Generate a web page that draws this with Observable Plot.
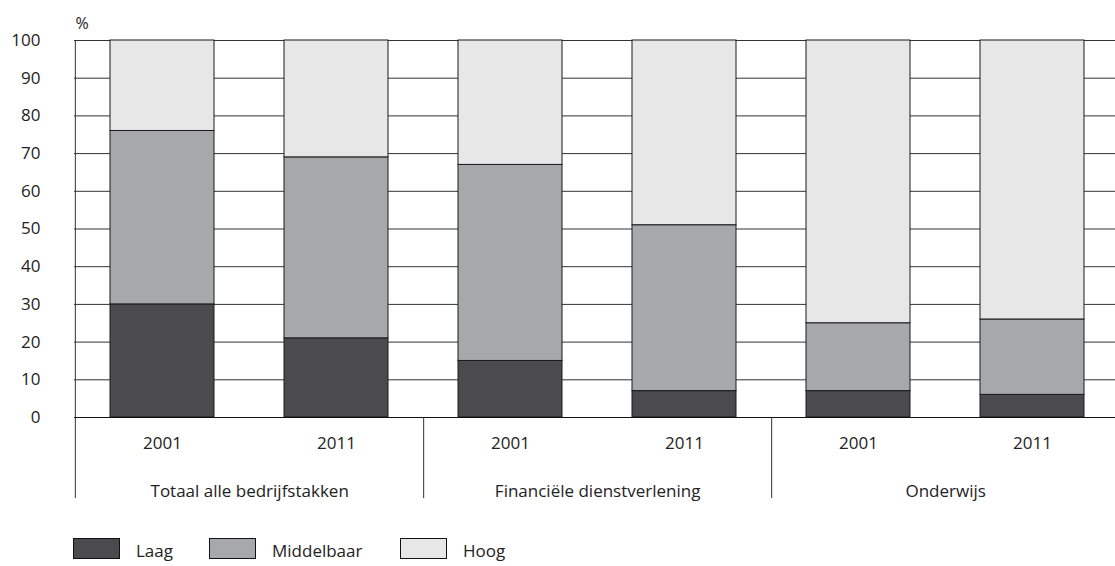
<!DOCTYPE html>
<html><head><meta charset="utf-8">
<script src="https://cdn.jsdelivr.net/npm/d3@7"></script>
<script src="https://cdn.jsdelivr.net/npm/@observablehq/plot@0.6"></script>
<style>
body{margin:0;background:#fff;overflow:hidden;font-family:"Open Sans",sans-serif;color:#222;position:relative;width:1115px;height:566px;}
#legend{position:absolute;left:0;top:538px;width:1115px;height:21px;font-size:17px;}
.item{display:flex;align-items:center;position:absolute;top:0;height:21px;}
.sw{width:47px;height:21px;border:1px solid #111;box-sizing:border-box;margin-right:16px;}
.item span{line-height:21px;position:relative;top:2px;}
</style></head><body>
<div id="chart"></div>
<div id="legend"></div>
<script>
const groups = ["Totaal alle bedrijfstakken", "Financiële dienstverlening", "Onderwijs"];
const years = ["2001", "2011"];
const levels = ["Laag", "Middelbaar", "Hoog"];
const laag = [30, 21, 15, 7, 7, 6];
const middelbaar = [46, 48, 52, 44, 18, 20];
const hoog = [24, 31, 33, 49, 75, 74];
const colors = ["#4b4b4d", "#a7a8aa", "#e7e7e7"];
const yTicks = [0, 10, 20, 30, 40, 50, 60, 70, 80, 90, 100];

const series = [laag, middelbaar, hoog];
const bars = [];
groups.forEach((g, gi) => years.forEach((y, yi) => bars.push({group: g, year: y, key: g + "|" + y, i: gi * 2 + yi})));
const rows = [];
bars.forEach(b => levels.forEach((l, li) => rows.push({key: b.key, level: l, value: series[li][b.i]})));
const keys = bars.map(b => b.key);

const W = 1115, H = 505;
const xRange = [74, 1120];
const step = (xRange[1] - xRange[0]) / keys.length;

const chart = Plot.plot({
  width: W, height: H,
  marginLeft: 74, marginRight: 0, marginTop: 40, marginBottom: 88,
  style: {fontFamily: "'Open Sans', sans-serif", fontSize: "17px", color: "#222", background: "#fff"},
  x: {domain: keys, range: xRange, paddingInner: 0.4, paddingOuter: 0.2, axis: null},
  y: {domain: [0, 100], axis: null},
  color: {domain: levels, range: colors},
  marks: [
    Plot.ruleY(yTicks, {stroke: "#333", strokeWidth: 1}),
    Plot.barY(rows, {x: "key", y: "value", fill: "level", stroke: "#1a1a1a", strokeWidth: 1}),
    Plot.ruleY([0], {stroke: "#111", strokeWidth: 1.2}),
    Plot.axisY({ticks: yTicks, tickSize: 0, tickPadding: 34, label: null, fontSize: 17}),
    Plot.ruleX([keys[0]], {x: d => d, dx: -step / 2, y1: 100, y2: -21.5, stroke: "#333"}),
    Plot.ruleX([keys[1], keys[3]], {x: d => d, dx: step / 2, y1: 0, y2: -21.5, stroke: "#333"}),
    Plot.text(bars, {x: "key", y: 0, dy: 26, text: "year", fontSize: 17, fill: "#222"}),
    Plot.text(bars.filter(b => b.year === years[0]), {x: "key", y: 0, dx: step / 2, dy: 74, text: "group", fontSize: 17, fill: "#222"}),
    Plot.text(["%"], {frameAnchor: "top-left", dx: 1, dy: -23, text: d => d, fontSize: 16, fill: "#222"})
  ]
});
document.getElementById("chart").appendChild(chart);

const legend = document.getElementById("legend");
const legendX = [73, 209, 400];
levels.forEach((l, i) => {
  const it = document.createElement("div");
  it.className = "item";
  it.style.left = legendX[i] + "px";
  it.innerHTML = `<div class="sw" style="background:${colors[i]}"></div><span>${l}</span>`;
  legend.appendChild(it);
});
</script>
</body></html>
